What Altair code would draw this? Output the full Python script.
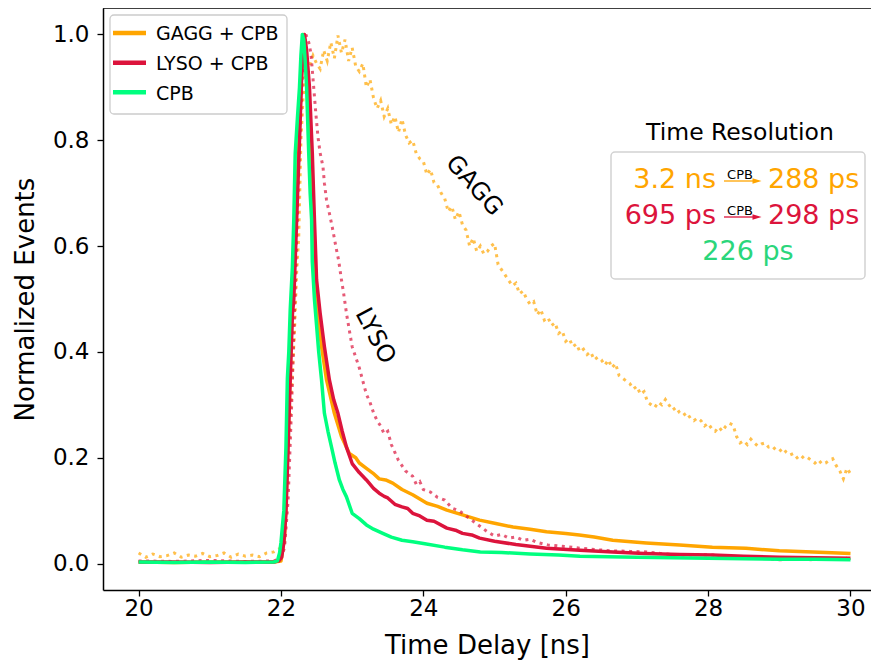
import altair as alt
import pandas as pd

FONT = "DejaVu Sans"
ORANGE = "#FFA500"
CRIMSON = "#DC143C"
GREEN = "#00FF7F"
TEXT_GREEN = "#2BD67B"

# ---------------- data ----------------
cpb_t = [20.0, 20.5, 21.0, 21.5, 21.9, 21.95, 21.98, 22.0, 22.02, 22.04, 22.07, 22.09, 22.11, 22.13,
         22.16, 22.18, 22.20, 22.23, 22.26, 22.28, 22.30, 22.32, 22.34, 22.36, 22.39, 22.41, 22.43,
         22.44, 22.47, 22.50, 22.53, 22.57, 22.61, 22.66, 22.71, 22.76, 22.82, 22.87, 22.92, 23.0,
         23.1, 23.2, 23.3, 23.43, 23.55, 23.7, 23.85, 24.0, 24.3, 24.55, 24.8, 25.1, 25.5, 25.9,
         26.2, 26.6, 27.0, 27.5, 28.0, 28.5, 29.0, 29.5, 30.0]
cpb_v = [0.003, 0.002, 0.003, 0.002, 0.003, 0.005, 0.02, 0.04, 0.07, 0.10, 0.22, 0.35, 0.40, 0.48,
         0.56, 0.65, 0.775, 0.84, 0.90, 0.96, 1.0, 0.99, 0.95, 0.90, 0.775, 0.70, 0.65,
         0.57, 0.50, 0.45, 0.40, 0.347, 0.284, 0.25, 0.22, 0.19, 0.158, 0.14, 0.126, 0.095,
         0.085, 0.073, 0.065, 0.057, 0.05, 0.044, 0.041, 0.038, 0.031, 0.026, 0.022, 0.021, 0.018, 0.016,
         0.014, 0.013, 0.012, 0.011, 0.010, 0.009, 0.008, 0.008, 0.007]

lyso_cpb_t = [20.0, 20.5, 21.0, 21.5, 21.9, 21.97, 22.01, 22.04, 22.07, 22.10, 22.13, 22.16, 22.18,
              22.22, 22.26, 22.29, 22.31, 22.33, 22.36, 22.40, 22.44, 22.47, 22.50, 22.55, 22.61,
              22.68, 22.74, 22.80, 22.86, 22.92, 23.0, 23.1, 23.2, 23.3, 23.38, 23.45, 23.5, 23.6,
              23.7, 23.78, 23.85, 23.95, 24.05, 24.15, 24.33, 24.45, 24.55, 24.68, 24.79, 25.0, 25.3,
              25.73, 26.2, 26.66, 27.1, 27.6, 28.06, 28.5, 29.0, 29.5, 30.0]
lyso_cpb_v = [0.003, 0.003, 0.002, 0.003, 0.003, 0.005, 0.012, 0.04, 0.095, 0.22, 0.347, 0.47, 0.50,
              0.65, 0.80, 0.92, 0.97, 1.0, 0.97, 0.90, 0.775, 0.65, 0.536, 0.473, 0.41,
              0.347, 0.31, 0.284, 0.25, 0.22, 0.189, 0.172, 0.158, 0.142, 0.133, 0.127, 0.124, 0.112,
              0.107, 0.104, 0.095, 0.090, 0.082, 0.080, 0.067, 0.063, 0.057, 0.054, 0.048, 0.042, 0.036,
              0.029, 0.025, 0.022, 0.019, 0.017, 0.016, 0.014, 0.012, 0.011, 0.010]

gagg_cpb_t = [20.0, 20.5, 21.0, 21.5, 21.9, 22.0, 22.05, 22.08, 22.11, 22.15, 22.19, 22.23, 22.27,
              22.30, 22.32, 22.36, 22.40, 22.43, 22.46, 22.51, 22.57, 22.64, 22.75, 22.85, 22.96,
              23.05, 23.1, 23.2, 23.29, 23.38, 23.47, 23.57, 23.7, 23.85, 24.05, 24.2, 24.33, 24.55,
              24.79, 25.0, 25.26, 25.5, 25.73, 26.0, 26.19, 26.4, 26.66, 27.13, 27.6, 28.06, 28.53,
              29.0, 29.47, 30.0]
gagg_cpb_v = [0.003, 0.002, 0.003, 0.003, 0.003, 0.005, 0.05, 0.15, 0.30, 0.45, 0.58, 0.72, 0.86,
              0.96, 1.0, 0.95, 0.85, 0.72, 0.60, 0.473, 0.41, 0.347, 0.284, 0.24, 0.208,
              0.20, 0.19, 0.180, 0.171, 0.16, 0.158, 0.152, 0.140, 0.13, 0.114, 0.108, 0.101, 0.092,
              0.082, 0.076, 0.069, 0.065, 0.060, 0.057, 0.054, 0.050, 0.044, 0.039, 0.035, 0.031, 0.029,
              0.024, 0.022, 0.019]

gagg_t = [20.0, 20.1, 20.2, 20.3, 20.4, 20.5, 20.6, 20.7, 20.8, 20.9, 21.0, 21.1, 21.2, 21.3, 21.4,
          21.5, 21.6, 21.7, 21.8, 21.9, 22.0, 22.05, 22.1, 22.15, 22.19, 22.22, 22.25, 22.28, 22.31,
          22.34, 22.37,
          22.40, 22.45, 22.50, 22.55, 22.60, 22.65, 22.70, 22.75, 22.80, 22.85, 22.90, 22.95,
          23.00, 23.05, 23.10, 23.15, 23.20, 23.25, 23.30, 23.35, 23.40, 23.45, 23.50, 23.55,
          23.60, 23.65, 23.70, 23.75, 23.80, 23.85, 23.90, 23.95, 24.00, 24.05, 24.10, 24.15,
          24.20, 24.25, 24.30, 24.35, 24.40, 24.45, 24.50, 24.55, 24.60, 24.65, 24.70, 24.75,
          24.80, 24.85, 24.90, 24.95, 25.00, 25.05, 25.10, 25.15, 25.20, 25.25, 25.30, 25.35,
          25.40, 25.45, 25.50, 25.55, 25.60, 25.65, 25.70, 25.75, 25.80, 25.85, 25.90, 25.95,
          26.00, 26.05, 26.10, 26.15, 26.20, 26.25, 26.30, 26.35, 26.40, 26.45, 26.50, 26.55,
          26.60, 26.65, 26.70, 26.75, 26.80, 26.85, 26.90, 26.95, 27.00, 27.05, 27.10, 27.15,
          27.20, 27.25, 27.30, 27.35, 27.40, 27.45, 27.50, 27.55, 27.60, 27.65, 27.70, 27.75,
          27.80, 27.85, 27.90, 27.95, 28.00, 28.05, 28.10, 28.15, 28.20, 28.25, 28.30, 28.35,
          28.40, 28.45, 28.50, 28.55, 28.60, 28.65, 28.70, 28.75, 28.80, 28.85, 28.90, 28.95,
          29.00, 29.05, 29.10, 29.15, 29.20, 29.25, 29.30, 29.35, 29.40, 29.45, 29.50, 29.55,
          29.60, 29.65, 29.70, 29.75, 29.80, 29.85, 29.90, 29.95, 30.00]
gagg_v = [0.020, 0.012, 0.018, 0.013, 0.015, 0.020, 0.012, 0.016, 0.014, 0.019, 0.013, 0.015, 0.020,
          0.012, 0.018, 0.014, 0.016, 0.013, 0.020, 0.022, 0.030, 0.08, 0.20, 0.33, 0.44, 0.55,
          0.62, 0.80, 0.88, 0.92, 0.935,
          0.940, 0.960, 0.945, 0.935, 0.970, 0.950, 0.985, 0.955, 0.998, 0.965, 0.990, 0.950,
          0.975, 0.940, 0.930, 0.945, 0.900, 0.915, 0.880, 0.860, 0.875, 0.845, 0.860, 0.830,
          0.845, 0.815, 0.840, 0.810, 0.795, 0.800, 0.775, 0.765, 0.760, 0.735, 0.745, 0.720,
          0.715, 0.700, 0.690, 0.665, 0.675, 0.650, 0.665, 0.640, 0.630, 0.600, 0.615, 0.590,
          0.600, 0.585, 0.590, 0.600, 0.605, 0.565, 0.555, 0.545, 0.535, 0.525, 0.530, 0.510,
          0.515, 0.500, 0.490, 0.495, 0.470, 0.480, 0.460, 0.465, 0.450, 0.455, 0.435, 0.440,
          0.420, 0.425, 0.410, 0.415, 0.400, 0.405, 0.395, 0.400, 0.385, 0.390, 0.385, 0.375,
          0.385, 0.370, 0.378, 0.355, 0.350, 0.345, 0.340, 0.330, 0.335, 0.320, 0.325, 0.305,
          0.300, 0.295, 0.305, 0.300, 0.310, 0.300, 0.290, 0.295, 0.285, 0.280, 0.285, 0.275,
          0.270, 0.275, 0.270, 0.260, 0.265, 0.255, 0.250, 0.258, 0.250, 0.260, 0.265, 0.262,
          0.240, 0.228, 0.232, 0.225, 0.235, 0.228, 0.222, 0.226, 0.228, 0.220, 0.222, 0.215,
          0.212, 0.218, 0.210, 0.205, 0.208, 0.200, 0.205, 0.198, 0.200, 0.195, 0.190, 0.196,
          0.188, 0.190, 0.195, 0.198, 0.185, 0.175, 0.160, 0.180, 0.170]

lyso_t = [20.0, 20.5, 21.0, 21.5, 21.9, 22.0, 22.05, 22.1, 22.15, 22.2, 22.25, 22.3, 22.35, 22.39,
          22.42, 22.44, 22.46, 22.49, 22.52, 22.55, 22.59, 22.61, 22.64, 22.68, 22.72, 22.78, 22.81,
          22.85, 22.88, 22.92, 22.96, 23.0, 23.05, 23.1, 23.15, 23.2, 23.25, 23.3, 23.35, 23.4,
          23.45, 23.5, 23.55, 23.6, 23.65, 23.7, 23.75, 23.8, 23.85, 23.9, 23.95, 24.0, 24.1, 24.2,
          24.3, 24.4, 24.5, 24.6, 24.7, 24.8, 24.9, 25.0, 25.1, 25.2, 25.3, 25.4, 25.5, 25.6, 25.75,
          26.0, 26.2, 26.45, 26.66, 26.9, 27.14, 27.4, 27.6, 27.85, 28.07, 28.3, 28.54, 28.8, 29.0,
          29.25, 29.47, 29.7, 29.94, 30.0]
lyso_v = [0.005, 0.004, 0.006, 0.004, 0.005, 0.010, 0.03, 0.12, 0.30, 0.52, 0.75, 0.92, 1.0, 0.985,
          0.965, 0.933, 0.90, 0.85, 0.806, 0.776, 0.75, 0.719, 0.687, 0.662, 0.636, 0.593, 0.573,
          0.536, 0.511, 0.473, 0.441, 0.41, 0.39, 0.37, 0.345, 0.32, 0.305, 0.285, 0.27, 0.26,
          0.245, 0.25, 0.225, 0.21, 0.195, 0.185, 0.175, 0.17, 0.165, 0.15, 0.155, 0.14, 0.135, 0.125,
          0.12, 0.105, 0.10, 0.09, 0.08, 0.07, 0.06, 0.052, 0.055, 0.048, 0.05, 0.044, 0.046, 0.04, 0.035,
          0.032, 0.029, 0.026, 0.024, 0.023, 0.022, 0.018, 0.016, 0.017, 0.016, 0.013, 0.012, 0.010, 0.007,
          0.009, 0.007, 0.009, 0.010, 0.008]

series_names = ["GAGG + CPB", "LYSO + CPB", "CPB"]
series_colors = [ORANGE, CRIMSON, GREEN]

# text of the annotations
res_title = "Time Resolution"
res_rows = [("3.2 ns", "288 ps", ORANGE), ("695 ps", "298 ps", CRIMSON)]
res_last = "226 ps"
labels = [("GAGG", 24.71, 0.714, 48), ("LYSO", 23.32, 0.43, 62)]


def frame(t, v, name):
    return pd.DataFrame({"t": t, "v": v, "series": name})


xs = alt.Scale(domain=[19.5, 30.288], nice=False, zero=False)
ys = alt.Scale(domain=[-0.05, 1.05], nice=False, zero=False)

x_axis = alt.Axis(values=[20, 22, 24, 26, 28, 30], format="d", title="Time Delay [ns]", grid=False,
                  labelFont=FONT, labelFontSize=23, labelColor="black",
                  titleFont=FONT, titleFontSize=26, titleFontWeight="normal", titleColor="black",
                  tickSize=6, tickWidth=1.3, tickColor="black", domainColor="black", domainWidth=1.5,
                  labelPadding=1, titlePadding=12)
y_axis = alt.Axis(values=[0, 0.2, 0.4, 0.6, 0.8, 1.0], format=".1f", title="Normalized Events",
                  grid=False, labelFont=FONT, labelFontSize=23, labelColor="black",
                  titleFont=FONT, titleFontSize=26, titleFontWeight="normal", titleColor="black",
                  tickSize=6, tickWidth=1.3, tickColor="black", domainColor="black", domainWidth=1.5,
                  labelPadding=8, titlePadding=14)

color_scale = alt.Scale(domain=series_names, range=series_colors)

X = alt.X("t:Q", scale=xs, axis=x_axis)
Y = alt.Y("v:Q", scale=ys, axis=y_axis)


def solid(df):
    return alt.Chart(df).mark_line(strokeWidth=3.5, strokeJoin="round").encode(
        x=X, y=Y, color=alt.Color("series:N", scale=color_scale, legend=None))


def dotted(df, color):
    return alt.Chart(df).mark_line(strokeWidth=3, strokeDash=[3, 4.5], color=color,
                                   opacity=0.7).encode(x=X, y=Y)


one = pd.DataFrame({"k": [0]})

layers = [
    dotted(frame(gagg_t, gagg_v, "GAGG"), ORANGE),
    solid(frame(gagg_cpb_t, gagg_cpb_v, series_names[0])),
    dotted(frame(lyso_t, lyso_v, "LYSO"), CRIMSON),
    solid(frame(lyso_cpb_t, lyso_cpb_v, series_names[1])),
    solid(frame(cpb_t, cpb_v, series_names[2])),
]

# rotated crystal labels placed in data coordinates
lab_df = pd.DataFrame({"text": [l[0] for l in labels], "t": [l[1] for l in labels],
                       "v": [l[2] for l in labels]})
for i in range(len(labels)):
    layers.append(alt.Chart(lab_df.iloc[[i]]).mark_text(
        font=FONT, fontSize=24, color="black", align="center", baseline="middle",
        angle=int(labels[i][3])).encode(x=alt.X("t:Q", scale=xs), y=alt.Y("v:Q", scale=ys),
                                        text="text:N"))

# top frame line
layers.append(alt.Chart(one).mark_rule(color="black", strokeWidth=1.5).encode(y=alt.value(0)))

# legend box (upper left)
layers.append(alt.Chart(one).mark_rect(fill="white", fillOpacity=0.8, stroke="#cccccc",
                                       strokeWidth=1.3, cornerRadius=4).encode(
    x=alt.value(7), x2=alt.value(184), y=alt.value(7), y2=alt.value(106)))
leg_rows = [25, 54.7, 84.3]
for name, col, yl in zip(series_names, series_colors, leg_rows):
    layers.append(alt.Chart(one).mark_rule(color=col, strokeWidth=4.5).encode(
        x=alt.value(10), x2=alt.value(43), y=alt.value(yl), y2=alt.value(yl)))
    layers.append(alt.Chart(one).mark_text(font=FONT, fontSize=19, color="black", align="left",
                                           baseline="alphabetic").encode(
        x=alt.value(53), y=alt.value(yl + 7.3), text=alt.value(name)))

# time resolution box
layers.append(alt.Chart(one).mark_rect(fill="white", stroke="#d2d2d2", strokeWidth=1.5,
                                       cornerRadius=4).encode(
    x=alt.value(508), x2=alt.value(762), y=alt.value(144), y2=alt.value(271)))
layers.append(alt.Chart(one).mark_text(font=FONT, fontSize=23.5, color="black", align="center",
                                       baseline="alphabetic").encode(
    x=alt.value(637), y=alt.value(132), text=alt.value(res_title)))

row_base = [180, 216]
for (left, right, col), yb in zip(res_rows, row_base):
    layers.append(alt.Chart(one).mark_text(font=FONT, fontSize=27, color=col, align="right",
                                           baseline="alphabetic").encode(
        x=alt.value(613), y=alt.value(yb), text=alt.value(left)))
    layers.append(alt.Chart(one).mark_text(font=FONT, fontSize=27, color=col, align="left",
                                           baseline="alphabetic").encode(
        x=alt.value(665), y=alt.value(yb), text=alt.value(right)))
    layers.append(alt.Chart(one).mark_rule(color=col, strokeWidth=1.3).encode(
        x=alt.value(621), x2=alt.value(652), y=alt.value(yb - 7), y2=alt.value(yb - 7)))
    layers.append(alt.Chart(one).mark_point(shape="M -1 -0.6 L 1 0 L -1 0.6 Z", filled=True,
                                            color=col, size=81, opacity=1).encode(
        x=alt.value(654), y=alt.value(yb - 7)))
    layers.append(alt.Chart(one).mark_text(font=FONT, fontSize=13, color="black", align="center",
                                           baseline="alphabetic").encode(
        x=alt.value(637), y=alt.value(yb - 9.5), text=alt.value("CPB")))

layers.append(alt.Chart(one).mark_text(font=FONT, fontSize=27, color=TEXT_GREEN, align="center",
                                       baseline="alphabetic").encode(
    x=alt.value(645), y=alt.value(252), text=alt.value(res_last)))

chart = alt.layer(*layers).properties(
    width=768, height=582,
    padding={"left": 95, "top": 0, "right": 0, "bottom": 70},
    autosize=alt.AutoSizeParams(type="none"),
).configure_view(stroke="transparent")

chart.save("out.html", embed_options={"renderer": "svg", "actions": False})
